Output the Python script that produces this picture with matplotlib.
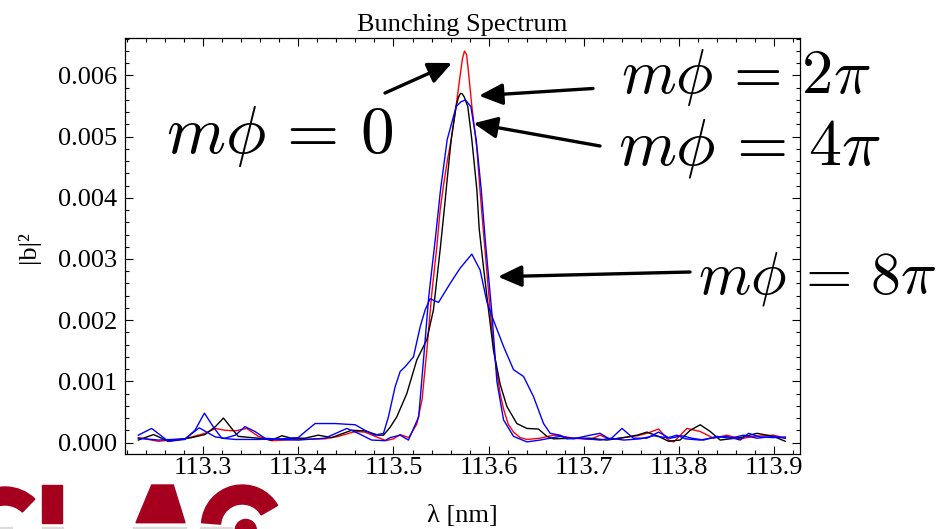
import matplotlib
matplotlib.use("Agg")
import matplotlib.pyplot as plt
from matplotlib.patches import Wedge, Polygon, Rectangle, Circle
from matplotlib.ticker import MultipleLocator, FormatStrFormatter

plt.rcParams['font.family'] = ['Liberation Serif', 'DejaVu Serif']
plt.rcParams['mathtext.fontset'] = 'cm'

# |b|^2, in units of 1e-4
RED_X = [113.232, 113.253, 113.281, 113.302, 113.313, 113.323, 113.334, 113.346, 113.358, 113.372,
         113.400, 113.428, 113.442, 113.460, 113.470, 113.484, 113.492, 113.500, 113.507, 113.516,
         113.5245, 113.530, 113.535, 113.540, 113.5455, 113.549, 113.5525, 113.5565, 113.5606, 113.5658,
         113.570, 113.5725, 113.5746, 113.5768, 113.5785, 113.5823, 113.5876, 113.591, 113.5942, 113.598,
         113.6016, 113.6048, 113.6086, 113.612, 113.6156, 113.6205, 113.6261, 113.633, 113.6401, 113.647,
         113.654, 113.668, 113.675, 113.689, 113.7066, 113.717, 113.7277, 113.7416, 113.756, 113.7662,
         113.7784, 113.789, 113.7944, 113.8082, 113.8222, 113.8362, 113.8502, 113.8643, 113.8783, 113.8993,
         113.9115]
RED_Y = [0.8, 0.2, 0.6, 1.5, 2.3, 2.0, 1.9, 2.3, 1.0, 0.3,
         0.5, 0.6, 1.0, 1.8, 1.7, 0.8, 0.3, 0.6, 1.3, 0.8,
         3.0, 7.0, 15, 24, 32, 38, 42, 46, 49.5, 55,
         60, 62.8, 64, 63.4, 61, 55, 48, 41, 35, 28,
         21.5, 16, 11.5, 8, 5.5, 3.0, 1.7, 0.8, 0.5, 0.6,
         0.7, 1.2, 1.1, 0.7, 0.5, 1.2, 0.5, 0.8, 1.1, 1.5,
         2.2, 0.4, 0.1, 2.3, 1.8, 0.7, 1.2, 0.6, 1.0, 1.2,
         0.7]

BLACK_X = [113.232, 113.248, 113.2635, 113.288, 113.302, 113.313, 113.3214, 113.330, 113.337, 113.358,
           113.372, 113.3827, 113.393, 113.407, 113.421, 113.435, 113.456, 113.470, 113.484, 113.4895,
           113.4965, 113.5035, 113.514, 113.5245, 113.535, 113.542, 113.549, 113.5533, 113.5564, 113.5606,
           113.5658, 113.5682, 113.5704, 113.5722, 113.5743, 113.5781, 113.5823, 113.5876, 113.590, 113.5945,
           113.5998, 113.605, 113.6121, 113.6191, 113.6296, 113.6401, 113.6523, 113.6611, 113.668, 113.689,
           113.7066, 113.724, 113.7416, 113.756, 113.7662, 113.7784, 113.789, 113.801, 113.8117, 113.8222,
           113.8327, 113.8432, 113.8537, 113.8643, 113.8818, 113.8993, 113.9115]
BLACK_Y = [0.4, 1.3, 0.2, 0.8, 1.3, 2.6, 4.0, 2.3, 1.0, 0.7,
           0.4, 1.1, 0.7, 0.7, 1.2, 0.8, 2.0, 1.9, 1.2, 1.2,
           2.5, 4.2, 8.0, 13.5, 16.8, 21.7, 31.5, 38, 43, 49.5,
           55, 56.4, 57.1, 57.0, 56.5, 54.9, 49.5, 41.3, 35, 28.7,
           21.7, 15.1, 9.5, 5.9, 3.1, 2.3, 2.2, 1.0, 0.6, 0.7,
           0.7, 0.4, 0.8, 1.2, 1.7, 1.0, 0.2, 0.4, 2.0, 2.9,
           1.8, 0.4, 0.6, 0.8, 1.5, 1.0, 0.2]

BLUE4_X = [113.232, 113.253, 113.281, 113.296, 113.306, 113.313, 113.323, 113.334, 113.344, 113.3545,
           113.365, 113.3827, 113.400, 113.428, 113.451, 113.463, 113.477, 113.491, 113.4965, 113.507,
           113.5157, 113.5265, 113.5318, 113.537, 113.5441, 113.5494, 113.5564, 113.5658, 113.5708, 113.5756,
           113.5813, 113.5869, 113.5922, 113.5964, 113.6034, 113.6086, 113.6156, 113.6261, 113.6401, 113.654,
           113.675, 113.689, 113.7066, 113.717, 113.7277, 113.740, 113.752, 113.7662, 113.7784, 113.7889,
           113.7977, 113.8065, 113.8222, 113.8362, 113.8502, 113.8643, 113.873, 113.8853, 113.8993, 113.9115]
BLUE4_Y = [0.7, 0.4, 0.6, 2.4, 1.5, 0.9, 0.7, 1.2, 2.6, 1.8,
           0.7, 0.5, 0.4, 0.7, 2.3, 1.5, 0.4, 0.3, 0.8, 1.2,
           0.4, 4.2, 14, 23.8, 33.5, 41.3, 49.5, 54.9, 55.7, 56,
           54.9, 49.5, 41.3, 33.1, 21.1, 10, 3.7, 1.0, 0.1, 0.4,
           1.0, 0.6, 1.2, 1.5, 0.5, 2.3, 0.7, 0.7, 1.7, 0.8,
           1.2, 0.6, 0.4, 0.8, 1.0, 0.4, 1.5, 0.9, 0.8, 0.9]

BLUE8_X = [113.232, 113.246, 113.2635, 113.281, 113.2915, 113.3014, 113.311, 113.3196, 113.3336, 113.358,
           113.3827, 113.400, 113.409, 113.4177, 113.4387, 113.4597, 113.470, 113.4807, 113.4895, 113.4947,
           113.5017, 113.507, 113.5123, 113.521, 113.528, 113.5333, 113.5385, 113.5473, 113.5595, 113.570,
           113.5823, 113.591, 113.5981, 113.605, 113.6156, 113.6261, 113.6366, 113.6471, 113.6576, 113.6646,
           113.675, 113.682, 113.696, 113.717, 113.7277, 113.742, 113.7592, 113.7732, 113.7907, 113.803,
           113.8135, 113.8257, 113.8397, 113.8537, 113.8678, 113.8818, 113.8993, 113.9115]
BLUE8_Y = [1.2, 2.3, 0.2, 0.5, 2.0, 4.8, 2.5, 0.7, 0.5, 0.5,
           0.6, 0.8, 2.0, 3.1, 3.1, 2.9, 2.0, 1.2, 1.5, 4.2,
           9.1, 11.6, 12.4, 14, 18.9, 21.7, 23.5, 22.9, 26, 28.5,
           30.8, 28.2, 23, 20, 15.7, 11.9, 10.8, 7.5, 3.1, 1.5,
           1.2, 0.6, 0.7, 0.4, 0.7, 0.4, 0.6, 1.1, 0.7, 1.1,
           0.7, 0.4, 1.0, 0.7, 1.2, 0.7, 1.0, 0.7]

SERIES = [(RED_X, RED_Y, "red"), (BLACK_X, BLACK_Y, "black"),
          (BLUE4_X, BLUE4_Y, "blue"), (BLUE8_X, BLUE8_Y, "blue")]

LABELS = [r"$m\phi\,=\,0$", r"$m\phi\,=\,2\pi$", r"$m\phi\,=\,4\pi$", r"$m\phi\,=\,8\pi$"]

W, H = 936, 529
SLAC = "#a6001f"

fig = plt.figure(figsize=(W / 100, H / 100), dpi=100)
fig.patch.set_facecolor("white")

ax = fig.add_axes([125 / W, 1 - 454 / H, 675 / W, 416 / H])
for xs, ys, c in SERIES:
    ax.plot(xs, [v * 1e-4 for v in ys], color=c, lw=1.0)

ax.set_xlim(113.218, 113.927)
ax.set_ylim(-0.000188, 0.006613)
ax.xaxis.set_major_locator(MultipleLocator(0.1))
ax.xaxis.set_minor_locator(MultipleLocator(0.02))
ax.yaxis.set_major_locator(MultipleLocator(0.001))
ax.yaxis.set_minor_locator(MultipleLocator(0.0002))
ax.xaxis.set_major_formatter(FormatStrFormatter("%.1f"))
ax.yaxis.set_major_formatter(FormatStrFormatter("%.3f"))
ax.tick_params(which="both", direction="in", top=True, right=True, width=0.8, labelsize=19)
ax.tick_params(which="major", length=6)
ax.tick_params(which="minor", length=3)
ax.tick_params(axis="x", pad=2.5)
ax.tick_params(axis="y", pad=5.5)
for sp in ax.spines.values():
    sp.set_linewidth(0.9)

# overlay in image pixel coordinates (y down) for texts, arrows and the logo
ov = fig.add_axes([0, 0, 1, 1], zorder=5)
ov.set_xlim(0, W)
ov.set_ylim(H, 0)
ov.axis("off")
ov.patch.set_alpha(0)

ov.text(462.5, 31, "Bunching Spectrum", fontsize=19, ha="center", va="baseline")
ov.text(462.5, 522, "λ [nm]", fontsize=19, ha="center", va="baseline")
ov.text(28, 247, "|b|²", fontsize=19, ha="center", va="center", rotation=90)

# left, baseline, size of each big label
label_pos = [(166, 153, 48.5), (621, 93, 45), (618, 164, 47.5), (698, 294, 43)]
for s, (px, py, fs) in zip(LABELS, label_pos):
    ov.text(px, py, s, fontsize=fs, ha="left", va="baseline", clip_on=False)

arrows = [((385, 93), (452, 63)), ((593, 88.5), (479, 95.7)),
          ((600, 146), (473.5, 123.3)), ((690, 272), (498, 276.7))]
for tail, head in arrows:
    ov.annotate("", xy=head, xytext=tail, annotation_clip=False,
                arrowprops=dict(arrowstyle="-|>,head_length=1.1,head_width=0.5",
                                mutation_scale=13, lw=2.4, color="black",
                                shrinkA=0, shrinkB=0))

# SLAC logo fragment, bottom left
ov.add_patch(Wedge((5, 530), 43, 230, 314, width=18, color=SLAC, clip_on=False))
ov.add_patch(Rectangle((41.7, 485), 20.6, 37.7, color=SLAC))
ov.add_patch(Polygon([(151.7, 485), (173.3, 485), (185, 522.7), (136, 522.7)], color=SLAC))
ov.add_patch(Wedge((242.3, 525.8), 40.8, 184.4, 330, width=19, color=SLAC))
ov.add_patch(Circle((245.8, 530), 10.5, color=SLAC, clip_on=False))
for x0, x1 in [(0, 12), (42, 63), (133, 186), (200, 232)]:
    ov.add_patch(Rectangle((x0, 526.8), x1 - x0, 3, color="#dcdcdc", clip_on=False))

fig.savefig("out.png", dpi=100, facecolor="white")
